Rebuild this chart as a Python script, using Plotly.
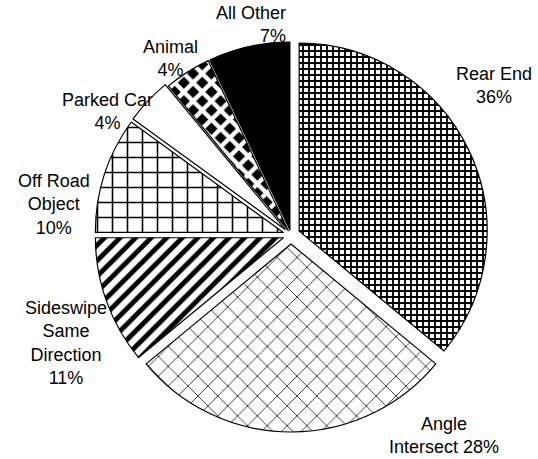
import plotly.graph_objects as go

# ---- data ----
categories = ["Rear End", "Angle Intersect", "Sideswipe Same Direction",
              "Off Road Object", "Parked Car", "Animal", "All Other"]
shares = [36, 28, 11, 10, 4, 4, 7]
label_texts = ["Rear End<br>36%", "Angle<br>Intersect 28%",
               "Sideswipe<br>Same<br>Direction<br>11%",
               "Off Road<br>Object<br>10%", "Parked Car<br>4%",
               "Animal<br>4%", "All Other<br>7%"]

# ---- styles ----
pulls = [0.048, 0.048, 0.043, 0.043, 0.043, 0.027, 0.027]
shapes = ["+", "x", "/", "+", "", "x", ""]
sizes = [6, 14, 11, 15, 8, 13, 8]
solid = [0.52, 0.12, 0.45, 0.2, 0.3, 0.55, 0.3]
fg = ["black", "#222222", "black", "black", "black", "white", "black"]
bg = ["white", "white", "white", "white", "white", "black", "black"]
fills = ["white", "white", "white", "white", "white", "black", "black"]

# label anchor positions in pixels (x, y from top) and alignment
W, H = 538, 459
label_pos = [(494, 86, "center"), (444, 435, "center"), (66, 343, "center"),
             (54, 204, "center"), (107, 111, "center"), (170, 58, "center"),
             (288, 24, "right")]

fig = go.Figure(go.Pie(
    labels=categories,
    values=shares,
    sort=False,
    direction="clockwise",
    rotation=0,
    pull=pulls,
    textinfo="none",
    hoverinfo="skip",
    showlegend=False,
    marker=dict(
        colors=fills,
        line=dict(color="black", width=1.2),
        pattern=dict(shape=shapes, size=sizes, solidity=solid,
                     fgcolor=fg, bgcolor=bg, fillmode="replace"),
    ),
    domain=dict(x=[94 / W, 488 / W], y=[(H - 432) / H, (H - 38) / H]),
))

for txt, (px, py, al) in zip(label_texts, label_pos):
    fig.add_annotation(
        x=px / W, y=1 - py / H, xref="paper", yref="paper",
        text=txt, showarrow=False, align=al,
        xanchor="right" if al == "right" else "center", yanchor="middle",
        font=dict(family="Liberation Sans, Arial, sans-serif", size=18, color="black"),
    )

fig.update_layout(
    width=W, height=H,
    margin=dict(l=0, r=0, t=0, b=0),
    paper_bgcolor="white", plot_bgcolor="white",
)

fig.write_html(
    "out.html",
    config={"displayModeBar": False},
    post_script="document.body.style.margin='0';document.body.style.overflow='hidden';",
)
